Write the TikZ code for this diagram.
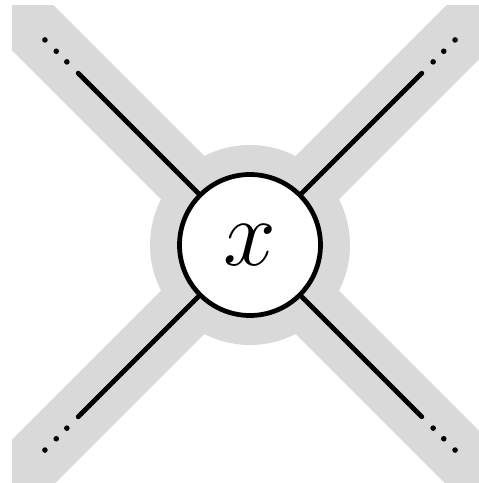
\documentclass[tikz,border=0pt]{standalone}
\usepackage{fix-cm}
\usepackage{tikz}
\definecolor{haze}{gray}{0.85}

\begin{document}
\begin{tikzpicture}[x=0.02cm,y=0.02cm,
   band/.style={haze,line width=35pt},
   leg/.style={line width=2.7pt,line cap=round},
   vertex/.style={circle,draw,line width=2.7pt,fill=white,minimum size=2.82cm,
                  inner sep=0pt,font=\fontsize{54}{54}\selectfont}]
  \useasboundingbox (-250,-238) rectangle (228,245);
  % shaded legs and halo
  \begin{scope}
    \clip (-238,-239) rectangle (238,239);
    \foreach \a in {45,135,225,315}
      \draw[band] (0,0) -- (\a:400);
  \end{scope}
  \fill[haze] (0,0) circle (100);
  \node[vertex] (v) at (0,0) {$x$};
  % legs with trailing dots
  \foreach \a/\n in {45/ne,135/nw,225/sw,315/se} {
    \coordinate (\n) at (\a:243);
    \draw[leg] (v) -- (\n);
    \foreach \d in {259,274,290}
      \fill (\a:\d) circle (2.8);
  }
\end{tikzpicture}
\end{document}
